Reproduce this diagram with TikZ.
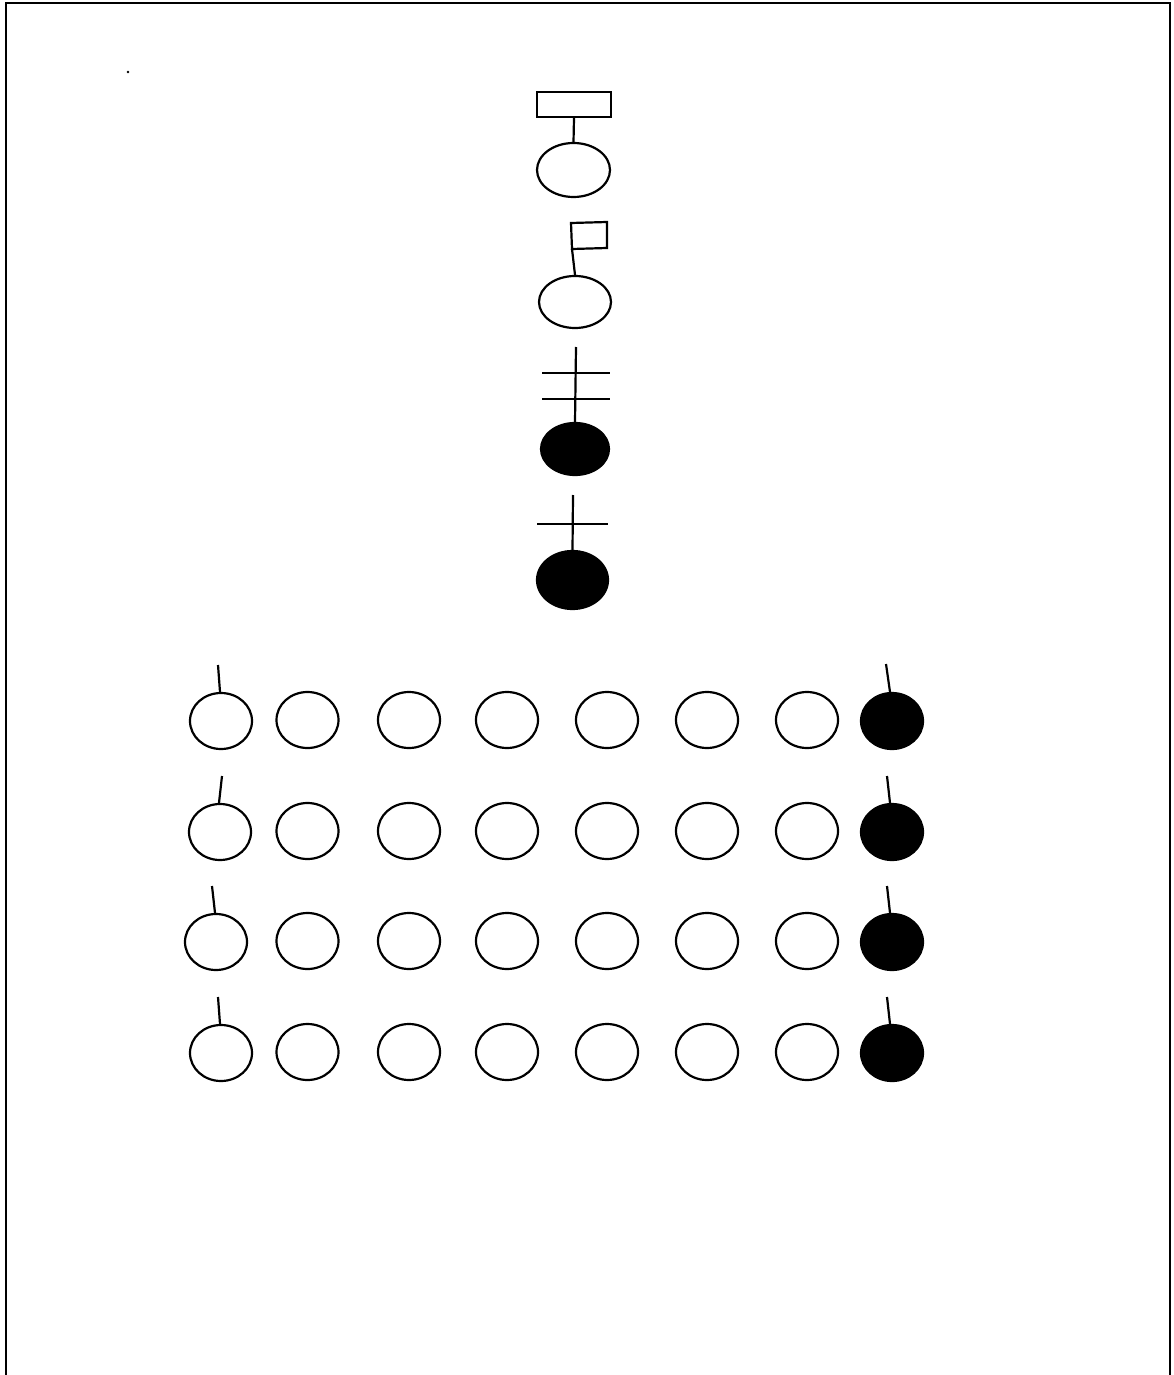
\documentclass[tikz,border=0pt]{standalone}
\usetikzlibrary{shapes.geometric}
\begin{document}
\begin{tikzpicture}[x=0.5pt,y=-0.5pt,
  ln/.style={line width=1.1pt},
  oval/.style={ellipse,draw,line width=1.1pt,inner sep=0pt,minimum width=31pt,minimum height=28pt},
  blackoval/.style={oval,fill=black},
  flagbox/.style={rectangle,draw,line width=1.1pt,inner sep=0pt}]
\useasboundingbox (0,0) rectangle (1173,1375);
% frame
\draw[line width=1.3pt] (6,1375) -- (6,3) -- (1170,3) -- (1170,1375);
% dot
\fill (128,72) circle (0.7pt);

% figure 1
\node[flagbox,minimum width=37pt,minimum height=12.5pt] (r1) at (574,104.5) {};
\node[oval,minimum width=36.5pt,minimum height=27pt] (e1) at (573.5,170) {};
\draw[ln] (r1.south) -- (e1.north);

% figure 2
\node[oval,minimum width=36pt,minimum height=26pt] (e2) at (575,302) {};
\coordinate (f2) at (572,249);
\draw[ln,line join=miter] (f2) -- (571,223) -- (607,222) -- (607,248) -- cycle;
\draw[ln] (f2) -- (e2.north);

% figure 3
\node[blackoval,minimum width=34pt,minimum height=26pt] (e3) at (575,449) {};
\coordinate (t3) at (576,347);
\coordinate (a3l) at (542,373); \coordinate (a3r) at (610,373);
\coordinate (b3l) at (542,399); \coordinate (b3r) at (610,399);
\draw[ln] (t3) -- (e3.north);
\draw[ln] (a3l) -- (a3r);
\draw[ln] (b3l) -- (b3r);

% figure 4
\node[blackoval,minimum width=35.5pt,minimum height=29pt] (e4) at (572.5,580) {};
\coordinate (t4) at (573,495);
\coordinate (a4l) at (537,524); \coordinate (a4r) at (608,524);
\draw[ln] (t4) -- (e4.north);
\draw[ln] (a4l) -- (a4r);

% grid
\foreach \r/\y/\fx in {1/721/221, 2/832/220, 3/942/216, 4/1053/221}{
  \node[oval] (g\r-1) at (\fx,\y) {};
  \foreach \c/\x in {2/307.5,3/409,4/507,5/607,6/707,7/807}{
    \node[oval] (g\r-\c) at (\x,\y-1) {};
  }
  \node[blackoval] (g\r-8) at (892,\y) {};
}
% stems
\coordinate (s1a) at (218,665); \coordinate (s1b) at (886,664);
\coordinate (s2a) at (222,776); \coordinate (s2b) at (887,776);
\coordinate (s3a) at (212,886); \coordinate (s3b) at (887,886);
\coordinate (s4a) at (218,997); \coordinate (s4b) at (887,997);
\foreach \r in {1,2,3,4}{
  \draw[ln] (s\r a) -- ([xshift=-0.5pt]g\r-1.north);
  \draw[ln] (s\r b) -- ([xshift=-1pt]g\r-8.north);
}
\end{tikzpicture}
\end{document}
